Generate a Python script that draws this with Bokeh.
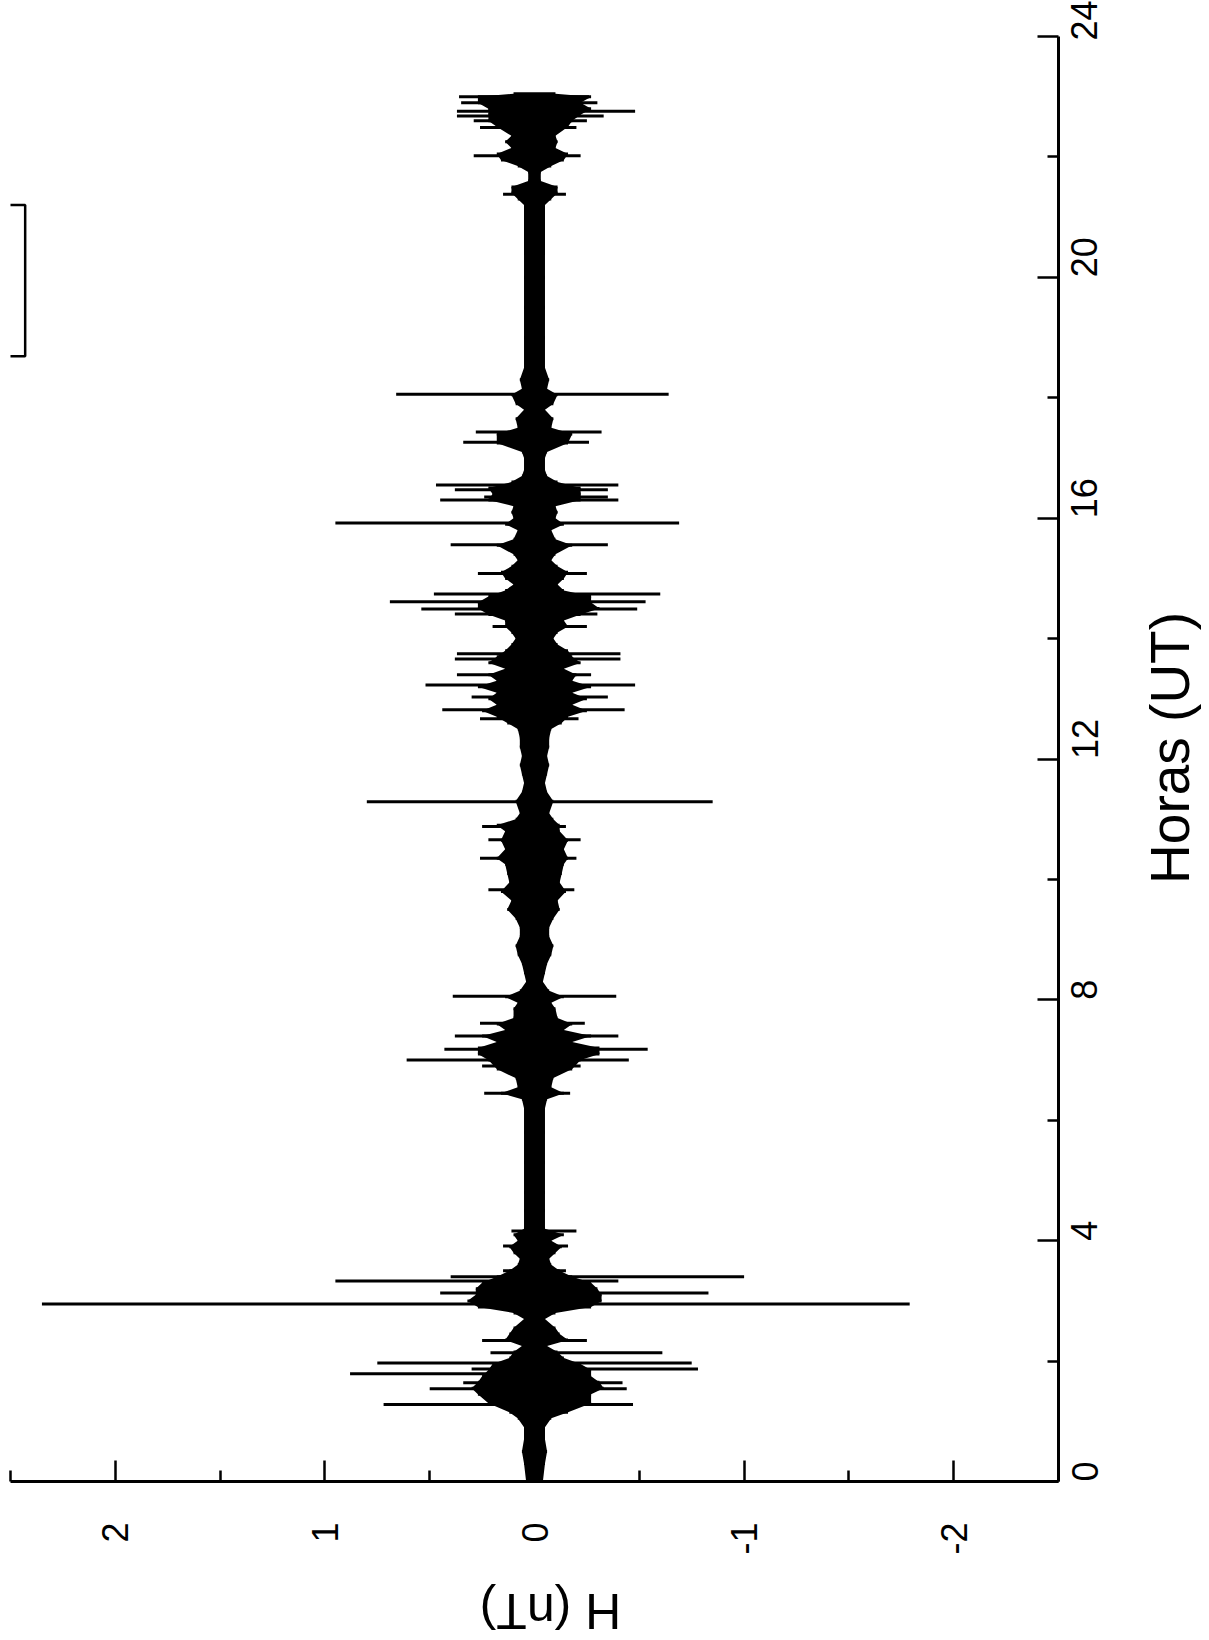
import math
from bokeh.plotting import figure
from bokeh.models import Range1d, FixedTicker
from bokeh.layouts import column, row
from bokeh.core.properties import value
from bokeh.embed import file_html
from bokeh.resources import INLINE

# ---- data ----
# axis ticks
hour_ticks = [0, 4, 8, 12, 16, 20, 24]
hour_minor = [2, 6, 10, 14, 18, 22]
hour_labels = ["0", "4", "8", "12", "16", "20", "24"]
h_ticks = [2, 1, 0, -1, -2]
h_minor = [2.5, 1.5, 0.5, -0.5, -1.5, -2.5]
h_labels = ["2", "1", "0", "-1", "-2"]

# dense core of the record: time (UT hours), upper and lower envelope (nT)
core_t = [0.00, 0.30, 0.50, 0.70, 0.90, 1.05, 1.15, 1.30, 1.45, 1.55, 1.65, 1.75,
          1.85, 1.95, 2.05, 2.15, 2.25, 2.35, 2.45, 2.55, 2.70, 2.80, 2.90, 3.00,
          3.10, 3.20, 3.30, 3.40, 3.50, 3.60, 3.70, 3.80, 3.90, 4.00, 4.10, 4.20,
          4.50, 4.80, 5.30, 5.80, 6.20, 6.35, 6.45, 6.55, 6.70, 6.85, 7.00, 7.10,
          7.20, 7.30, 7.40, 7.50, 7.60, 7.70, 7.85, 7.95, 8.05, 8.15, 8.30, 8.45,
          8.60, 8.75, 8.90, 9.05, 9.20, 9.35, 9.50, 9.65, 9.80, 9.95, 10.10, 10.25,
          10.35, 10.50, 10.65, 10.80, 10.90, 11.00, 11.10, 11.30, 11.45, 11.60, 11.75, 11.90,
          12.05, 12.20, 12.35, 12.50, 12.60, 12.70, 12.80, 12.90, 13.00, 13.10, 13.20, 13.30,
          13.40, 13.50, 13.60, 13.70, 13.80, 13.90, 14.00, 14.10, 14.20, 14.30, 14.40, 14.50,
          14.60, 14.70, 14.80, 14.90, 15.00, 15.10, 15.20, 15.30, 15.40, 15.55, 15.65, 15.80,
          15.90, 16.00, 16.10, 16.20, 16.30, 16.40, 16.50, 16.60, 16.70, 16.80, 17.00, 17.10,
          17.25, 17.40, 17.50, 17.65, 17.80, 17.90, 18.05, 18.15, 18.30, 18.50, 19.00, 19.50,
          20.00, 20.50, 20.80, 21.00, 21.20, 21.30, 21.40, 21.50, 21.60, 21.75, 21.85, 21.95,
          22.05, 22.15, 22.25, 22.35, 22.50, 22.60, 22.70, 22.80, 22.90, 23.00, 23.05]
core_hi = [0.04, 0.05, 0.06, 0.05, 0.05, 0.08, 0.12, 0.22, 0.27, 0.30, 0.27, 0.25,
           0.22, 0.20, 0.12, 0.10, 0.06, 0.14, 0.12, 0.10, 0.05, 0.10, 0.27, 0.32,
           0.28, 0.28, 0.25, 0.18, 0.12, 0.08, 0.07, 0.10, 0.12, 0.08, 0.10, 0.05,
           0.05, 0.05, 0.05, 0.05, 0.05, 0.06, 0.16, 0.08, 0.09, 0.18, 0.22, 0.27,
           0.27, 0.18, 0.25, 0.14, 0.18, 0.10, 0.10, 0.08, 0.14, 0.07, 0.04, 0.05,
           0.06, 0.08, 0.09, 0.07, 0.07, 0.09, 0.13, 0.11, 0.16, 0.12, 0.13, 0.14,
           0.18, 0.14, 0.16, 0.14, 0.18, 0.09, 0.07, 0.09, 0.06, 0.05, 0.06, 0.07,
           0.06, 0.07, 0.07, 0.08, 0.13, 0.18, 0.25, 0.18, 0.22, 0.18, 0.27, 0.18,
           0.22, 0.14, 0.22, 0.18, 0.14, 0.11, 0.09, 0.11, 0.14, 0.14, 0.22, 0.27,
           0.27, 0.22, 0.14, 0.10, 0.14, 0.16, 0.11, 0.08, 0.10, 0.18, 0.10, 0.08,
           0.14, 0.10, 0.11, 0.10, 0.22, 0.20, 0.22, 0.11, 0.06, 0.05, 0.05, 0.06,
           0.18, 0.18, 0.08, 0.09, 0.05, 0.09, 0.11, 0.06, 0.07, 0.05, 0.05, 0.05,
           0.05, 0.05, 0.05, 0.05, 0.05, 0.08, 0.11, 0.11, 0.03, 0.03, 0.08, 0.16,
           0.18, 0.11, 0.14, 0.11, 0.18, 0.22, 0.22, 0.22, 0.27, 0.27, 0.10]
core_lo = [-0.04, -0.05, -0.06, -0.05, -0.05, -0.08, -0.16, -0.27, -0.27, -0.33, -0.31, -0.27,
           -0.27, -0.22, -0.14, -0.11, -0.06, -0.16, -0.12, -0.10, -0.05, -0.10, -0.27, -0.32,
           -0.32, -0.30, -0.27, -0.18, -0.12, -0.08, -0.07, -0.10, -0.13, -0.08, -0.14, -0.05,
           -0.05, -0.05, -0.05, -0.05, -0.05, -0.06, -0.14, -0.08, -0.09, -0.18, -0.22, -0.31,
           -0.31, -0.18, -0.27, -0.14, -0.18, -0.11, -0.10, -0.08, -0.14, -0.07, -0.04, -0.05,
           -0.06, -0.08, -0.09, -0.07, -0.07, -0.09, -0.12, -0.11, -0.15, -0.12, -0.13, -0.14,
           -0.16, -0.14, -0.16, -0.12, -0.12, -0.09, -0.07, -0.09, -0.06, -0.05, -0.06, -0.07,
           -0.06, -0.07, -0.07, -0.08, -0.13, -0.16, -0.25, -0.18, -0.25, -0.18, -0.27, -0.18,
           -0.20, -0.14, -0.22, -0.18, -0.16, -0.11, -0.09, -0.11, -0.16, -0.14, -0.22, -0.31,
           -0.27, -0.27, -0.14, -0.11, -0.14, -0.16, -0.11, -0.08, -0.10, -0.18, -0.10, -0.08,
           -0.14, -0.10, -0.11, -0.10, -0.22, -0.22, -0.22, -0.11, -0.06, -0.05, -0.05, -0.06,
           -0.16, -0.18, -0.08, -0.09, -0.05, -0.09, -0.11, -0.06, -0.07, -0.05, -0.05, -0.05,
           -0.05, -0.05, -0.05, -0.05, -0.05, -0.08, -0.11, -0.11, -0.03, -0.03, -0.08, -0.14,
           -0.16, -0.10, -0.11, -0.10, -0.16, -0.18, -0.22, -0.27, -0.22, -0.27, -0.10]

# isolated excursions (spikes): time, positive and negative extremes (nT)
spike_t = [1.28, 1.54, 1.64, 1.79, 1.87, 1.97, 2.14, 2.34, 2.95, 3.13, 3.33, 3.40,
           3.50, 3.91, 4.16, 6.45, 6.90, 7.00, 7.18, 7.40, 7.61, 8.06, 9.83, 10.35,
           10.66, 10.88, 11.29, 12.67, 12.82, 13.03, 13.23, 13.40, 13.66, 13.75, 14.20, 14.41,
           14.49, 14.61, 14.74, 15.08, 15.56, 15.92, 16.30, 16.35, 16.47, 16.55, 17.26, 17.43,
           18.06, 21.38, 22.02, 22.49, 22.60, 22.68, 22.76, 22.90, 23.00]
spike_hi = [0.72, 0.50, 0.34, 0.88, 0.30, 0.75, 0.21, 0.25, 2.35, 0.45, 0.95, 0.40,
            0.15, 0.15, 0.11, 0.24, 0.25, 0.61, 0.43, 0.38, 0.26, 0.39, 0.22, 0.26,
            0.22, 0.25, 0.80, 0.26, 0.44, 0.30, 0.52, 0.37, 0.38, 0.37, 0.20, 0.38,
            0.54, 0.69, 0.48, 0.27, 0.40, 0.95, 0.45, 0.24, 0.38, 0.47, 0.34, 0.28,
            0.66, 0.15, 0.29, 0.26, 0.29, 0.37, 0.37, 0.35, 0.36]
spike_lo = [-0.47, -0.44, -0.42, -0.23, -0.78, -0.75, -0.61, -0.25, -1.79, -0.83, -0.40, -1.00,
            -0.15, -0.16, -0.20, -0.17, -0.22, -0.45, -0.54, -0.40, -0.24, -0.39, -0.19, -0.20,
            -0.22, -0.15, -0.85, -0.21, -0.43, -0.35, -0.48, -0.27, -0.41, -0.41, -0.25, -0.30,
            -0.49, -0.53, -0.60, -0.25, -0.35, -0.69, -0.40, -0.35, -0.35, -0.40, -0.26, -0.32,
            -0.64, -0.15, -0.22, -0.20, -0.25, -0.33, -0.48, -0.30, -0.26]

FONT = "Liberation Sans"
W_MAIN, H_MAIN = 1128, 1570      # main plot panel
W_SIDE, H_FOOT = 81, 70          # strips that carry the rotated titles

p = figure(width=W_MAIN, height=H_MAIN,
           x_range=Range1d(2.5, -2.5), y_range=Range1d(0, 24),
           y_axis_location="right", x_axis_location="below",
           output_backend="svg", toolbar_location=None,
           min_border_left=10, min_border_right=70,
           min_border_top=36, min_border_bottom=89)
p.grid.visible = False
p.outline_line_color = None
p.background_fill_color = "white"
p.border_fill_color = "white"

# signal
p.harea(y=core_t, x1=core_lo, x2=core_hi, fill_color="black")
p.segment(x0=core_lo, y0=core_t, x1=core_hi, y1=core_t, line_color="black", line_width=3)
p.segment(x0=spike_lo, y0=spike_t, x1=spike_hi, y1=spike_t, line_color="black", line_width=3)

# partially visible framed box at top-left
p.quad(left=[2.9], right=[2.43], bottom=[18.69], top=[21.2],
       fill_color=None, line_color="black", line_width=2.5)

# axes with ticks
p.xaxis.ticker = FixedTicker(ticks=h_ticks, minor_ticks=h_minor)
p.xaxis.major_label_overrides = {k: v for k, v in zip(h_ticks, h_labels)}
p.yaxis.ticker = FixedTicker(ticks=hour_ticks, minor_ticks=hour_minor)
p.yaxis.major_label_overrides = {k: v for k, v in zip(hour_ticks, hour_labels)}
for ax in (p.xaxis[0], p.yaxis[0]):
    ax.axis_line_width = 3
    ax.axis_line_color = "black"
    ax.major_tick_line_width = 2.5
    ax.minor_tick_line_width = 2.5
    ax.major_tick_line_color = "black"
    ax.minor_tick_line_color = "black"
    ax.major_tick_in = 21
    ax.major_tick_out = 0
    ax.minor_tick_in = 11
    ax.minor_tick_out = 0
    ax.major_label_text_font = FONT
    ax.major_label_text_font_size = "36px"
    ax.major_label_text_color = "black"
    ax.major_label_orientation = math.pi / 2
p.xaxis[0].major_label_standoff = 41
p.yaxis[0].major_label_standoff = 26


def strip(w, h):
    f = figure(width=w, height=h, x_range=Range1d(0, w), y_range=Range1d(0, h),
               output_backend="svg", toolbar_location=None,
               x_axis_location=None, y_axis_location=None,
               min_border=0, min_border_left=0, min_border_right=0,
               min_border_top=0, min_border_bottom=0)
    f.grid.visible = False
    f.outline_line_color = None
    f.background_fill_color = "white"
    f.border_fill_color = "white"
    return f


# right strip: "Horas (UT)" reading bottom-to-top
fr = strip(W_SIDE, H_MAIN)
fr.text(x=[41], y=[H_MAIN - 773], text=["Horas (UT)"], angle=math.pi / 2,
        text_align="center", text_baseline="middle",
        text_font=value(FONT), text_font_size="55px", text_color="black")

# bottom strip: "H (nT)" upside down
fb = strip(W_MAIN + W_SIDE, H_FOOT)
fb.text(x=[550], y=[30], text=["H (nT)"], angle=math.pi,
        text_align="center", text_baseline="middle",
        text_font=value(FONT), text_font_size="50px", text_color="black")

layout = column(row(p, fr, spacing=0), fb, spacing=0)
open("out.html", "w").write(file_html(layout, INLINE))
